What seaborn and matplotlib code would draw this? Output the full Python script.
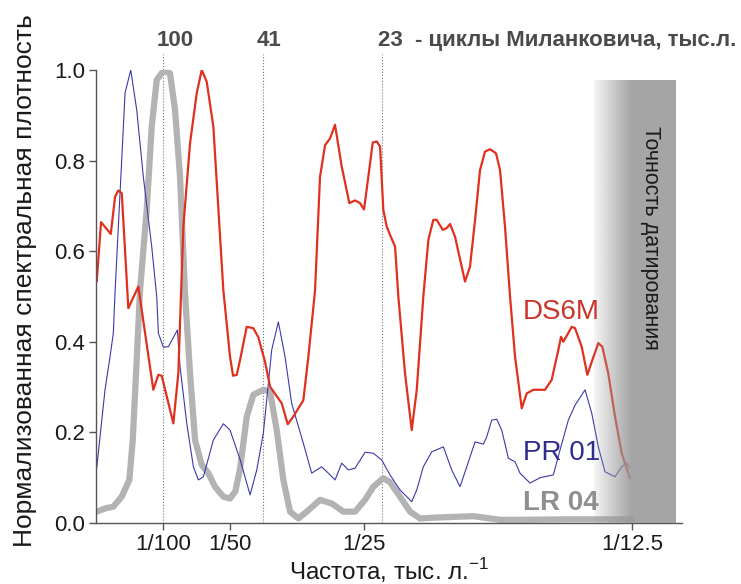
import numpy as np
import pandas as pd
import seaborn as sns
import matplotlib.pyplot as plt

# частота в 1/тыс. лет, спектральная плотность нормализована на 1
ds6m_f = [0.0001, 0.00075, 0.0022, 0.00284, 0.00333, 0.00384, 0.00482, 0.00631, 0.00855, 0.0093,
          0.0098, 0.01154, 0.01228, 0.01303, 0.01403, 0.01503, 0.01578, 0.01652, 0.01751, 0.019,
          0.02, 0.02045, 0.0210, 0.0215, 0.02249, 0.02348, 0.02422, 0.02522, 0.02597, 0.02772,
          0.02861, 0.02945, 0.03094, 0.03169, 0.03269, 0.03343, 0.03418, 0.03493, 0.03567, 0.03667,
          0.03781, 0.03866, 0.0394, 0.04, 0.04064, 0.0413, 0.0419, 0.04239, 0.04288, 0.04339,
          0.04388, 0.04463, 0.04512, 0.04612, 0.04712, 0.04787, 0.04885, 0.0496, 0.05034, 0.05085,
          0.05175, 0.05234, 0.05284, 0.05358, 0.05507, 0.05582, 0.05657, 0.05731, 0.05806, 0.05881,
          0.0597, 0.0603, 0.06104, 0.06179, 0.06254, 0.06354, 0.06428, 0.06527, 0.06701, 0.06801,
          0.069, 0.0694, 0.06975, 0.071, 0.07149, 0.07249, 0.07333, 0.07399, 0.07497, 0.07557,
          0.07646, 0.07746, 0.07846, 0.0797]
ds6m_p = [0.533, 0.664, 0.638, 0.720, 0.734, 0.728, 0.474, 0.522, 0.294, 0.327,
          0.325, 0.220, 0.330, 0.654, 0.838, 0.949, 1.0, 0.974, 0.875, 0.514,
          0.367, 0.325, 0.327, 0.360, 0.433, 0.430, 0.410, 0.356, 0.301, 0.264,
          0.218, 0.235, 0.271, 0.367, 0.514, 0.764, 0.834, 0.849, 0.879, 0.787,
          0.706, 0.712, 0.706, 0.692, 0.764, 0.840, 0.842, 0.831, 0.691, 0.654,
          0.636, 0.610, 0.50, 0.330, 0.205, 0.294, 0.50, 0.625, 0.669, 0.669,
          0.647, 0.651, 0.660, 0.632, 0.533, 0.566, 0.669, 0.779, 0.820, 0.825,
          0.816, 0.779, 0.654, 0.50, 0.367, 0.253, 0.286, 0.294, 0.294, 0.316,
          0.382, 0.411, 0.400, 0.433, 0.430, 0.389, 0.327, 0.356, 0.397, 0.389,
          0.330, 0.235, 0.154, 0.099]

pr01_f = [0.0001, 0.00134, 0.00209, 0.00258, 0.00284, 0.00383, 0.00433, 0.00518, 0.00607, 0.00706,
          0.00831, 0.00906, 0.0093, 0.01005, 0.0108, 0.01214, 0.01254, 0.01354, 0.01453, 0.01527,
          0.01602, 0.01751, 0.019, 0.02, 0.0215, 0.02299, 0.02399, 0.02497, 0.02622, 0.02721,
          0.02821, 0.0292, 0.03094, 0.03219, 0.03368, 0.03467, 0.03567, 0.03667, 0.03766, 0.03866,
          0.04015, 0.04139, 0.04264, 0.04388, 0.04537, 0.04712, 0.04787, 0.04885, 0.0501, 0.05184,
          0.05309, 0.05433, 0.05533, 0.05657, 0.05781, 0.05831, 0.05906, 0.05981, 0.06055, 0.06154,
          0.06254, 0.06328, 0.06478, 0.06627, 0.06825, 0.06925, 0.07049, 0.07149, 0.07299, 0.07399,
          0.07497, 0.07597, 0.07746, 0.07846, 0.0792, 0.0797]
pr01_p = [0.121, 0.294, 0.367, 0.419, 0.51, 0.801, 0.949, 1.0, 0.912, 0.764,
          0.61, 0.50, 0.419, 0.388, 0.389, 0.426, 0.345, 0.22, 0.124, 0.095,
          0.102, 0.183, 0.219, 0.205, 0.14, 0.062, 0.117, 0.198, 0.382, 0.444,
          0.367, 0.264, 0.176, 0.11, 0.124, 0.11, 0.095, 0.132, 0.117, 0.121,
          0.156, 0.154, 0.139, 0.106, 0.073, 0.047, 0.073, 0.124, 0.157, 0.168,
          0.117, 0.08, 0.124, 0.179, 0.174, 0.19, 0.227, 0.229, 0.205, 0.143,
          0.135, 0.11, 0.088, 0.1, 0.106, 0.161, 0.227, 0.26, 0.294, 0.242,
          0.168, 0.113, 0.102, 0.124, 0.132, 0.121]

lr04_f = [0.0001, 0.00134, 0.00258, 0.00383, 0.00497, 0.00548, 0.00597, 0.00657, 0.00756, 0.00831,
          0.00906, 0.01006, 0.01104, 0.01179, 0.01254, 0.01328, 0.01403, 0.01478, 0.01578, 0.01676,
          0.01776, 0.019, 0.02, 0.0208, 0.0215, 0.0225, 0.02348, 0.02497, 0.02597, 0.02697,
          0.02796, 0.02896, 0.0302, 0.03145, 0.03343, 0.03518, 0.03691, 0.03866, 0.04015, 0.04139,
          0.04288, 0.04388, 0.04537, 0.04687, 0.04836, 0.05085, 0.05632, 0.0603, 0.06378, 0.07,
          0.08]
lr04_p = [0.025, 0.032, 0.036, 0.058, 0.095, 0.183, 0.33, 0.514, 0.691, 0.875,
          0.978, 0.998, 0.993, 0.912, 0.764, 0.507, 0.33, 0.183, 0.128, 0.11,
          0.08, 0.058, 0.054, 0.07, 0.12, 0.235, 0.283, 0.294, 0.29, 0.205,
          0.095, 0.025, 0.01, 0.025, 0.051, 0.043, 0.025, 0.025, 0.051, 0.08,
          0.099, 0.09, 0.058, 0.025, 0.01, 0.012, 0.015, 0.007, 0.007, 0.008,
          0.008]

tick_freqs = [1 / 100, 1 / 50, 1 / 25, 1 / 12.5]
tick_labels = ['1/100', '1/50', '1/25', '1/12.5']
cycle_freqs = [1 / 100, 1 / 40.1, 1 / 23.4]
cycle_labels = ['100', '41', '23  - циклы Миланковича, тыс.л.']

sns.set_theme(style='ticks')
plt.rcParams['font.family'] = ['Liberation Sans', 'DejaVu Sans']

fig = plt.figure(figsize=(7.41, 5.84), dpi=100)
ax = fig.add_axes([0.1296, 0.1045, 0.7908, 0.7757])

sns.lineplot(x=lr04_f, y=lr04_p, ax=ax, color='#b3b3b3', lw=4.5, estimator=None,
             solid_capstyle='round', solid_joinstyle='round', zorder=2)
sns.lineplot(x=pr01_f, y=pr01_p, ax=ax, color='#3c39aa', lw=0.8, estimator=None, zorder=2)
sns.lineplot(x=ds6m_f, y=ds6m_p, ax=ax, color='#e0301e', lw=1.6, estimator=None, zorder=2)

# полоса "точность датирования" с градиентом
band_x0, band_x1, band_top = 0.0743, 0.0864, 0.976
ramp = np.clip(np.linspace(0, 1, 200) / 0.45, 0, 1)
rgba = np.ones((1, 200, 4))
rgba[..., :3] = 0.6
rgba[..., 3] = 0.1 + 0.78 * ramp
ax.imshow(rgba, extent=[band_x0, band_x1, 0, band_top], aspect='auto',
          interpolation='bilinear', zorder=3)
ax.text(0.0827, 0.63, 'Точность датирования', rotation=-90, ha='center', va='center',
        fontsize=15.5, color='#1a1a1a', zorder=4)

# циклы Миланковича
for f in cycle_freqs:
    ax.plot([f, f], [0, 1.035], ls=':', lw=0.8, color='#777777', clip_on=False, zorder=1)
ax.text(0.0118, 1.066, cycle_labels[0], ha='center', va='center', fontsize=16,
        fontweight='bold', color='#4a4a4a')
ax.text(0.0258, 1.066, cycle_labels[1], ha='center', va='center', fontsize=16,
        fontweight='bold', color='#4a4a4a')
ax.text(0.0421, 1.066, cycle_labels[2], ha='left', va='center', fontsize=16,
        fontweight='bold', color='#4a4a4a')

ax.text(0.0637, 0.466, 'DS6M', ha='left', va='center', fontsize=20, color='#c8352a', zorder=5)
ax.text(0.0637, 0.155, 'PR 01', ha='left', va='center', fontsize=20, color='#2f2b8f', zorder=5)
ax.text(0.0637, 0.044, 'LR 04', ha='left', va='center', fontsize=20, fontweight='bold',
        color='#8f8f8f', zorder=5)

ax.set_xlim(0, 0.08746)
ax.set_ylim(0, 1.0)
ax.set_xticks(tick_freqs)
ax.set_xticklabels(tick_labels)
ax.set_yticks([0, 0.2, 0.4, 0.6, 0.8, 1.0])
ax.set_yticklabels(['0.0', '0.2', '0.4', '0.6', '0.8', '1.0'])
ax.tick_params(axis='both', labelsize=16, length=5, width=1, color='#555555',
               labelcolor='#1a1a1a', direction='out', pad=3)
sns.despine(ax=ax)
for s in ['left', 'bottom']:
    ax.spines[s].set_color('#555555')
    ax.spines[s].set_linewidth(1)

ax.set_xlabel('Частота, тыс. л.$^{\\mathregular{-1}}$', fontsize=17.5, color='#1a1a1a')
ax.xaxis.set_label_coords(0.5, -0.073)
ax.set_ylabel('Нормализованная спектральная плотность', fontsize=19, color='#1a1a1a')
ax.yaxis.set_label_coords(-0.1, 0.535)

fig.savefig('out.png', dpi=100)
